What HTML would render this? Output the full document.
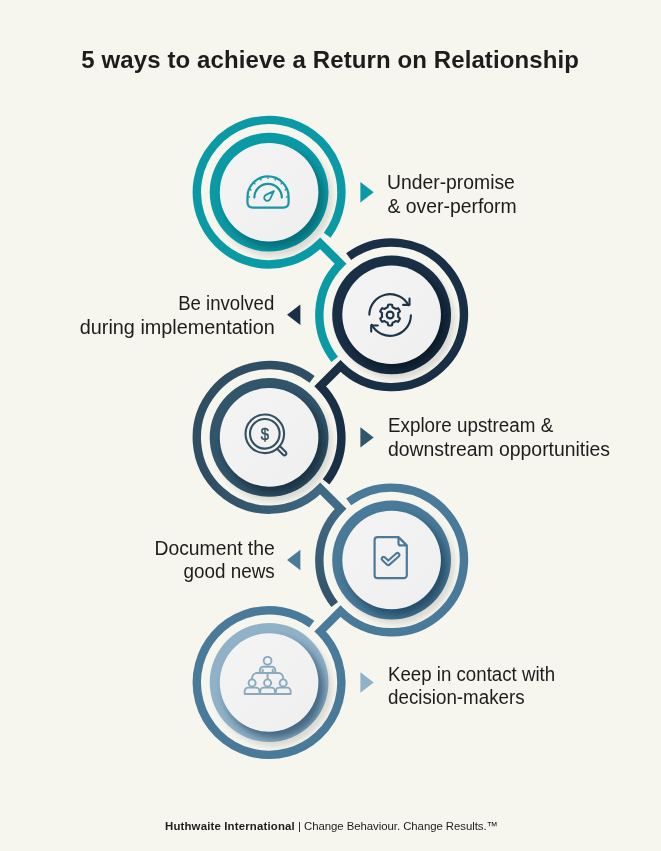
<!DOCTYPE html><html><head><meta charset="utf-8"><title>5 ways to achieve a Return on Relationship</title><style>
html,body{margin:0;padding:0}
body{width:661px;height:851px;background:#f6f5ee;position:relative;overflow:hidden;font-family:"Liberation Sans",sans-serif;color:#1d1d1b}
#wrap{position:absolute;left:0;top:0;width:661px;height:851px;will-change:transform}
.t{position:absolute;white-space:nowrap;line-height:24px;font-size:19.4px;}
.t span{display:inline-block;white-space:nowrap}
h1{position:absolute;margin:0;left:81.3px;top:43.6px;font-size:24px;letter-spacing:0.1px;line-height:32px;font-weight:bold;white-space:nowrap;transform-origin:0 50%;}
.foot{position:absolute;left:165px;top:818px;font-size:11.4px;line-height:16px;white-space:nowrap;transform-origin:0 50%}

</style></head><body><div id="wrap">
<svg width="661" height="851" viewBox="0 0 661 851" style="position:absolute;left:0;top:0">
<defs>
<filter id="b1" x="-30%" y="-30%" width="160%" height="160%"><feGaussianBlur stdDeviation="3.2"/></filter>
<filter id="b2" x="-30%" y="-30%" width="160%" height="160%"><feGaussianBlur stdDeviation="4.2"/></filter>
<linearGradient id="wd" x1="0" y1="0" x2="1" y2="1"><stop offset="0" stop-color="#f4f4f5"/><stop offset="1" stop-color="#efeff0"/></linearGradient>
<clipPath id="cp0"><circle cx="269.1" cy="192.2" r="59.4"/></clipPath>
<clipPath id="cp1"><circle cx="391.6" cy="314.8" r="59.4"/></clipPath>
<clipPath id="cp2"><circle cx="269.1" cy="437.4" r="59.4"/></clipPath>
<clipPath id="cp3"><circle cx="391.6" cy="560.0" r="59.4"/></clipPath>
<clipPath id="cp4"><circle cx="269.1" cy="682.5" r="59.4"/></clipPath>
<radialGradient id="gs" gradientUnits="userSpaceOnUse" cx="334" cy="500" r="125"><stop offset="0" stop-color="#426c87"/><stop offset="0.4" stop-color="#3a6079"/><stop offset="1" stop-color="#2f4e63"/></radialGradient>
</defs>
<circle cx="273.6" cy="197.7" r="58.4" fill="#000" opacity="0.115" filter="url(#b1)"/>
<circle cx="396.1" cy="320.3" r="58.4" fill="#000" opacity="0.115" filter="url(#b1)"/>
<circle cx="273.6" cy="442.9" r="58.4" fill="#000" opacity="0.115" filter="url(#b1)"/>
<circle cx="396.1" cy="565.5" r="58.4" fill="#000" opacity="0.115" filter="url(#b1)"/>
<circle cx="273.6" cy="688.0" r="58.4" fill="#000" opacity="0.115" filter="url(#b1)"/>
<g fill="none" stroke-width="8.4" stroke-linejoin="miter" stroke-linecap="butt">
<path d="M327.21 235.22 A72.30 72.30 0 1 0 320.21 243.33 L340.54 263.67 A72.30 72.30 0 0 0 334.69 359.32" stroke="#0a9aa6"/>
<path d="M348.66 256.67 A72.30 72.30 0 1 1 340.54 365.93 L320.21 386.27 A72.30 72.30 0 0 1 326.06 481.92" stroke="#192f46"/>
<path d="M312.09 379.27 A72.30 72.30 0 1 0 320.21 488.53 L340.54 508.87 A72.30 72.30 0 0 0 334.67 604.50" stroke="url(#gs)"/>
<path d="M348.66 501.87 A72.30 72.30 0 1 1 340.52 611.11 L320.23 631.39 A72.30 72.30 0 0 1 287.80 752.34 A72.30 72.30 0 0 1 199.27 663.77 A72.30 72.30 0 0 1 311.81 624.17" stroke="#497a99"/>
</g>
<circle cx="269.1" cy="192.2" r="59.4" fill="#0a9aa6"/>
<g clip-path="url(#cp0)"><circle cx="274.6" cy="198.7" r="49.8" fill="#03464f" opacity="0.50" filter="url(#b2)"/></g>
<circle cx="269.1" cy="192.2" r="49.3" fill="url(#wd)"/>
<circle cx="391.6" cy="314.8" r="59.4" fill="#192f46"/>
<g clip-path="url(#cp1)"><circle cx="397.1" cy="321.3" r="49.8" fill="#040c14" opacity="0.60" filter="url(#b2)"/></g>
<circle cx="391.6" cy="314.8" r="49.3" fill="url(#wd)"/>
<circle cx="269.1" cy="437.4" r="59.4" fill="#31556b"/>
<g clip-path="url(#cp2)"><circle cx="274.6" cy="443.9" r="49.8" fill="#0c1e2b" opacity="0.60" filter="url(#b2)"/></g>
<circle cx="269.1" cy="437.4" r="49.3" fill="url(#wd)"/>
<circle cx="391.6" cy="560.0" r="59.4" fill="#497a99"/>
<g clip-path="url(#cp3)"><circle cx="397.1" cy="566.5" r="49.8" fill="#0f3049" opacity="0.60" filter="url(#b2)"/></g>
<circle cx="391.6" cy="560.0" r="49.3" fill="url(#wd)"/>
<circle cx="269.1" cy="682.5" r="59.4" fill="#90b2c8"/>
<g clip-path="url(#cp4)"><circle cx="274.6" cy="689.0" r="49.8" fill="#1b425f" opacity="0.66" filter="url(#b2)"/></g>
<circle cx="269.1" cy="682.5" r="49.3" fill="url(#wd)"/>
<path d="M360.40 182.00 L373.70 192.20 L360.40 202.40 Z" fill="#0a9aa6"/>
<path d="M300.35 304.60 L287.05 314.80 L300.35 325.00 Z" fill="#192f46"/>
<path d="M360.40 427.20 L373.70 437.40 L360.40 447.60 Z" fill="#31556b"/>
<path d="M300.35 549.80 L287.05 560.00 L300.35 570.20 Z" fill="#497a99"/>
<path d="M360.40 672.30 L373.70 682.50 L360.40 692.70 Z" fill="#90b2c8"/>
<g fill="none" stroke="#1797a3" stroke-width="2.2" stroke-linecap="round" stroke-linejoin="round">
<path d="M247.50 202.2 V197.00 A20.55 20.55 0 0 1 288.60 197.00 V202.2 C288.60 205.6 286.40 207.6 283.20 207.6 H252.90 C249.70 207.6 247.50 205.6 247.50 202.2 Z"/>
<path d="M254.30 197.60 A13.75 13.75 0 0 1 281.80 197.60"/>
<path d="M248.45 197.00 L250.15 197.00 M249.94 189.50 L251.51 190.15 M254.19 183.14 L255.39 184.34 M260.55 178.89 L261.20 180.46 M268.05 177.40 L268.05 179.10 M275.55 178.89 L274.90 180.46 M281.91 183.14 L280.71 184.34 M286.16 189.50 L284.59 190.15 M287.65 197.00 L285.95 197.00" stroke-width="1.4" stroke-linecap="butt"/>
<path d="M273.90 191.10 L265.96 194.90 A3.10 3.10 0 1 0 270.10 199.04 Z" stroke-width="1.8"/>
</g>
<g fill="none" stroke="#1d3446" stroke-width="2.1" stroke-linecap="round" stroke-linejoin="round">
<path d="M369.30 314.64 A20.80 20.80 0 0 1 408.47 305.23"/>
<path d="M409.5 298.6 V304.9 H403.1"/>
<path d="M410.90 315.36 A20.80 20.80 0 0 1 371.73 324.77"/>
<path d="M377.8 325.5 H371.2 V331.6"/>
<path d="M387.70 307.16 L388.19 304.68 A10.50 10.50 0 0 1 392.01 304.68 L392.50 307.16 A8.20 8.20 0 0 1 395.69 309.00 L398.08 308.18 A10.50 10.50 0 0 1 400.00 311.50 L398.09 313.16 A8.20 8.20 0 0 1 398.09 316.84 L400.00 318.50 A10.50 10.50 0 0 1 398.08 321.82 L395.69 321.00 A8.20 8.20 0 0 1 392.50 322.84 L392.01 325.32 A10.50 10.50 0 0 1 388.19 325.32 L387.70 322.84 A8.20 8.20 0 0 1 384.51 321.00 L382.12 321.82 A10.50 10.50 0 0 1 380.20 318.50 L382.11 316.84 A8.20 8.20 0 0 1 382.11 313.16 L380.20 311.50 A10.50 10.50 0 0 1 382.12 308.18 L384.51 309.00 A8.20 8.20 0 0 1 387.70 307.16 Z"/>
<circle cx="390.10" cy="315.00" r="3.4"/>
</g>
<g fill="none" stroke="#34505f" stroke-width="2.1" stroke-linecap="round" stroke-linejoin="round">
<circle cx="264.80" cy="433.80" r="19.3"/><circle cx="264.80" cy="433.80" r="14.8"/>
<path transform="rotate(45 264.80 433.80)" d="M284.40 431.90 H292.60 a1.9 1.9 0 0 1 0 3.8 H284.40"/>
</g>
<text transform="translate(264.80 439.80) scale(0.86 1)" x="0" y="0" text-anchor="middle" font-family="Liberation Sans, sans-serif" font-weight="normal" font-size="17.4" fill="#34505f" stroke="#34505f" stroke-width="0.5">$</text>
<g fill="none" stroke="#4c7997" stroke-width="2.2" stroke-linecap="round" stroke-linejoin="round">
<path d="M398.5 537.1 H377.6 A3 3 0 0 0 374.6 540.1 V575.2 A3 3 0 0 0 377.6 578.2 H403.8 A3 3 0 0 0 406.8 575.2 V545.4 L398.5 537.1 V543.4 A2 2 0 0 0 400.5 545.4 H406.8"/>
<path d="M383.7 558.9 L388.2 563.2 L397.4 555.0" stroke-width="5.9"/>
<path d="M383.7 558.9 L388.2 563.2 L397.4 555.0" stroke-width="1.7" stroke="#f1f1f3"/>
</g>
<g fill="none" stroke="#8aa9bd" stroke-width="1.9" stroke-linecap="round" stroke-linejoin="round">
<circle cx="267.6" cy="660.8" r="3.9"/>
<path d="M259.9 673 V670.2 A3.4 3.4 0 0 1 263.3 666.8 H271.9 A3.4 3.4 0 0 1 275.3 670.2 V673"/>
<path d="M262.7 669.8 V673 M272.7 669.8 V673"/>
<path d="M252.1 678.6 C252.1 675.5 254 673 257 673 H278.4 C281.4 673 283.2 675.5 283.2 678.6 M267.6 673 V678.6"/>
<circle cx="252.1" cy="682.9" r="3.5"/>
<path d="M244.7 694 V691 A3.4 3.4 0 0 1 248.1 687.6 H256.1 A3.4 3.4 0 0 1 259.5 691 V694 Z"/>
<circle cx="267.6" cy="682.9" r="3.5"/>
<path d="M260.2 694 V691 A3.4 3.4 0 0 1 263.6 687.6 H271.6 A3.4 3.4 0 0 1 275.0 691 V694 Z"/>
<circle cx="283.2" cy="682.9" r="3.5"/>
<path d="M275.8 694 V691 A3.4 3.4 0 0 1 279.2 687.6 H287.2 A3.4 3.4 0 0 1 290.6 691 V694 Z"/>
</g>
</svg>
<h1 id="title">5 ways to achieve a Return on Relationship</h1>
<div class="t" id="t0_0" style="left:387.4px;top:170.0px;transform-origin:0 50%;transform:scaleX(0.997)">Under-promise</div>
<div class="t" id="t0_1" style="left:387.4px;top:194.2px;transform-origin:0 50%;transform:scaleX(1.000)">&amp; over-perform</div>
<div class="t" id="t1_0" style="right:386.6px;top:290.5px;transform-origin:100% 50%;transform:scaleX(0.958)">Be involved</div>
<div class="t" id="t1_1" style="right:386.6px;top:314.5px;transform-origin:100% 50%;transform:scaleX(1.022)">during implementation</div>
<div class="t" id="t2_0" style="left:388.0px;top:412.9px;transform-origin:0 50%;transform:scaleX(0.970)">Explore upstream &amp;</div>
<div class="t" id="t2_1" style="left:388.0px;top:436.5px;transform-origin:0 50%;transform:scaleX(1.000)">downstream opportunities</div>
<div class="t" id="t3_0" style="right:386.5px;top:536.1px;transform-origin:100% 50%;transform:scaleX(0.996)">Document the</div>
<div class="t" id="t3_1" style="right:386.5px;top:559.4px;transform-origin:100% 50%;transform:scaleX(0.973)">good news</div>
<div class="t" id="t4_0" style="left:388.0px;top:661.6px;transform-origin:0 50%;transform:scaleX(0.963)">Keep in contact with</div>
<div class="t" id="t4_1" style="left:388.0px;top:685.4px;transform-origin:0 50%;transform:scaleX(0.968)">decision-makers</div>
<div class="foot" id="foot"><b style="letter-spacing:0.17px">Huthwaite International</b><span style="letter-spacing:-0.05px"> | Change Behaviour. Change Results.™</span></div>
</div></body></html>
